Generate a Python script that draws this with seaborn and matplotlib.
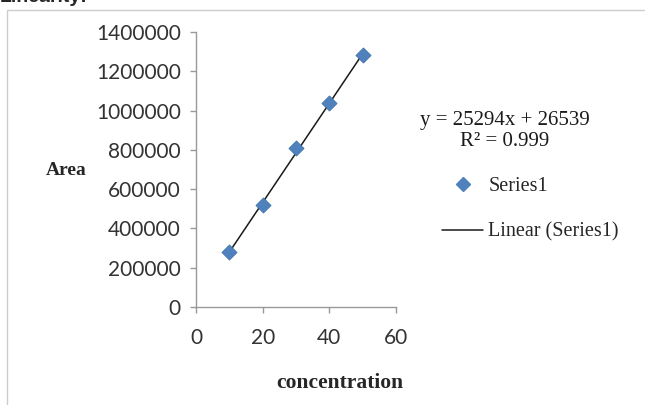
import matplotlib
matplotlib.use("Agg")
import matplotlib.pyplot as plt
import seaborn as sns
import pandas as pd
from matplotlib.patches import Rectangle
from matplotlib.lines import Line2D

concentration = [10, 20, 30, 40, 50]
area = [280000, 517000, 808000, 1037000, 1282000]
x_ticks = [0, 20, 40, 60]
y_ticks = [0, 200000, 400000, 600000, 800000, 1000000, 1200000, 1400000]
equation = "y = 25294x + 26539"
r2_text = "R² = 0.999"

df = pd.DataFrame({"concentration": concentration, "Area": area})

sns.set_style("white")
plt.rcParams['font.family'] = ['Liberation Serif', 'DejaVu Sans']

fig = plt.figure(figsize=(6.45, 4.05), dpi=100)
ax = fig.add_axes([0.304, 0.242, 0.310, 0.679])

sns.regplot(data=df, x="concentration", y="Area", ax=ax, ci=None, scatter=False,
            line_kws=dict(color="#1a1a1a", lw=1.1), truncate=True)
sns.scatterplot(data=df, x="concentration", y="Area", ax=ax, marker="D", s=60,
                color="#4F81BD", edgecolor="#3d6fa8", linewidth=0.5, zorder=3)

ax.set_xlim(0, 60)
ax.set_ylim(0, 1400000)
ax.set_xticks(x_ticks)
ax.set_yticks(y_ticks)
ax.set_xticklabels([str(v) for v in x_ticks], family=['Lato', 'DejaVu Sans'], fontsize=15, color="#333333")
ax.set_yticklabels([str(v) for v in y_ticks], family=['Lato', 'DejaVu Sans'], fontsize=15, color="#333333")
for s in ["top", "right"]:
    ax.spines[s].set_visible(False)
for s in ["left", "bottom"]:
    ax.spines[s].set_color("#999999")
    ax.spines[s].set_linewidth(1.0)
ax.tick_params(axis="y", which="major", direction="out", length=4, width=1, color="#999999", pad=7, left=True)
ax.tick_params(axis="x", which="major", direction="out", length=4, width=1, color="#999999", pad=11, bottom=True)
ax.set_xlabel("")
ax.set_ylabel("")

fig.text(0.102, 0.578, "Area", fontsize=14, fontweight="bold", ha="center", va="center")
fig.text(0.527, 0.055, "concentration", fontsize=15.5, fontweight="bold", ha="center", va="center")

fig.text(0.783, 0.703, equation, fontsize=15, ha="center", va="center", color="#1a1a1a")
fig.text(0.783, 0.651, r2_text, fontsize=15, ha="center", va="center", color="#1a1a1a")

handles = [Line2D([], [], marker="D", color="#4F81BD", linestyle="none", markersize=7),
           Line2D([], [], color="#1a1a1a", lw=1.1)]
fig.legend(handles, ["Series1", "Linear (Series1)"], loc="center left",
           bbox_to_anchor=(0.657, 0.483), frameon=False,
           handlelength=2.05, labelspacing=1.3, handletextpad=0.25,
           prop={'family': ['Liberation Serif'], 'size': 14.5})

fig.text(0.0, 1.005, "Linearity:", fontsize=14, fontweight="bold", ha="left", va="center",
         family=['Liberation Sans', 'DejaVu Sans'])

fig.patches.append(Rectangle((0.011, -0.01), 1.0, 0.985, transform=fig.transFigure,
                             fill=False, edgecolor="#cccccc", lw=1.0))

fig.savefig("out.png", dpi=100)
